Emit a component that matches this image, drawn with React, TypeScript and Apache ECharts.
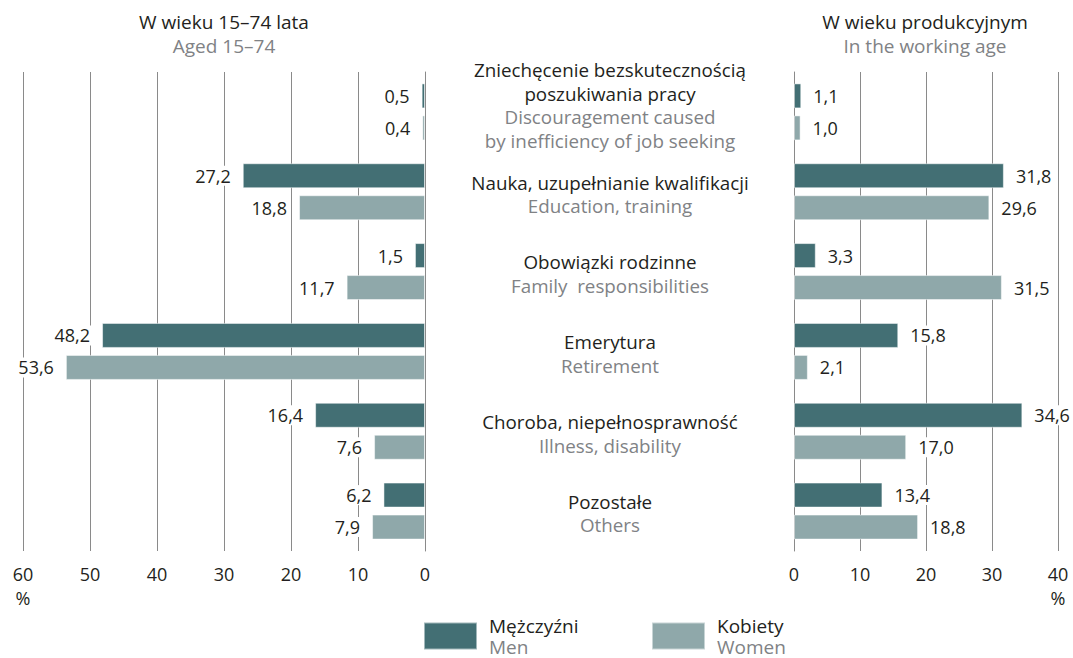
import React, { useEffect, useRef } from "react";
import * as echarts from "echarts";

const categoriesPL = [
  "Zniechęcenie bezskutecznością\nposzukiwania pracy",
  "Nauka, uzupełnianie kwalifikacji",
  "Obowiązki rodzinne",
  "Emerytura",
  "Choroba, niepełnosprawność",
  "Pozostałe",
];
const categoriesEN = [
  "Discouragement caused\nby inefficiency of job seeking",
  "Education, training",
  "Family  responsibilities",
  "Retirement",
  "Illness, disability",
  "Others",
];
const men1574 = [0.5, 27.2, 1.5, 48.2, 16.4, 6.2];
const women1574 = [0.4, 18.8, 11.7, 53.6, 7.6, 7.9];
const menWorking = [1.1, 31.8, 3.3, 15.8, 34.6, 13.4];
const womenWorking = [1.0, 29.6, 31.5, 2.1, 17.0, 18.8];
const leftTicksMax = 60;
const rightTicksMax = 40;
const tickInterval = 10;
const seriesNames = ["Mężczyźni", "Kobiety"];
const seriesNamesEN = ["Men", "Women"];
const headersPL = ["W wieku 15–74 lata", "W wieku produkcyjnym"];
const headersEN = ["Aged 15–74", "In the working age"];

const FONT = "'Open Sans', 'Noto Sans', sans-serif";
const DARK = "#231f20";
const GREY = "#808285";
const MEN = "#436f74";
const WOMEN = "#8fa8aa";
const GRIDC = "#8a8a8a";

const fmt = (v: number) => v.toFixed(1).replace(".", ",");

export default function App() {
  const ref = useRef<HTMLDivElement>(null);
  useEffect(() => {
    document.body.style.margin = "0";
    if (!ref.current) return;
    const chart = echarts.init(ref.current, undefined, { renderer: "svg" });
    const labelCommon = {
      show: true,
      color: DARK,
      fontSize: 18,
      fontFamily: FONT,
      backgroundColor: "#fff",
      padding: [1, 3],
      distance: 9,
      formatter: (p: any) => fmt(p.value),
    };
    const barCommon = {
      type: "bar",
      barWidth: 25,
      barGap: "28%",
    };
    const xCommon = (max: number, inverse: boolean, gridIndex: number) => ({
      type: "value",
      gridIndex,
      min: 0,
      max,
      interval: tickInterval,
      inverse,
      axisLine: { show: false },
      axisTick: { show: false },
      splitLine: { show: true, lineStyle: { color: GRIDC, width: 1 } },
      axisLabel: {
        color: DARK,
        fontSize: 18,
        fontFamily: FONT,
        margin: 11,
        lineHeight: 24,
        formatter: (v: number) => (v === max ? `${v}\n%` : `${v}`),
      },
    });
    chart.setOption({
      animation: false,
      textStyle: { fontFamily: FONT },
      grid: [
        { left: 23, width: 402, top: 72, height: 479 },
        { left: 794, width: 264, top: 72, height: 479 },
      ],
      xAxis: [xCommon(leftTicksMax, true, 0), xCommon(rightTicksMax, false, 1)],
      yAxis: [
        {
          type: "category",
          gridIndex: 0,
          inverse: true,
          position: "right",
          data: categoriesPL,
          axisLine: { show: true, onZero: false, lineStyle: { color: GRIDC } },
          axisTick: { show: false },
          axisLabel: { show: false },
        },
        {
          type: "category",
          gridIndex: 1,
          inverse: true,
          position: "left",
          data: categoriesPL,
          axisLine: { show: true, onZero: false, lineStyle: { color: GRIDC } },
          axisTick: { show: false },
          axisLabel: {
            show: true,
            margin: 184,
            align: "center",
            verticalAlign: "middle",
            fontFamily: FONT,
            formatter: (_v: string, idx: number) => {
              const pl = categoriesPL[idx].split("\n").map((s) => `{pl|${s}}`);
              const en = categoriesEN[idx].split("\n").map((s) => `{en|${s}}`);
              const lines = [...pl, ...en];
              if (lines.length > 2) lines.push("{sp| }");
              else lines.unshift("{sp2| }");
              return lines.join("\n");
            },
            rich: {
              pl: { color: DARK, fontSize: 18.8, lineHeight: 23.5, fontFamily: FONT, align: "center" },
              en: { color: GREY, fontSize: 18.8, lineHeight: 23.5, fontFamily: FONT, align: "center" },
              sp: { fontSize: 4, lineHeight: 13, align: "center" },
              sp2: { fontSize: 4, lineHeight: 5, align: "center" },
            },
          },
        },
      ],
      legend: [0, 1].map((i) => ({
        data: [seriesNames[i]],
        left: i === 0 ? 423 : 651,
        top: 616,
        padding: 0,
        icon: "rect",
        itemWidth: 53,
        itemHeight: 27,
        selectedMode: false,
        formatter: (name: string) => `{a|${name}}\n{b|${seriesNamesEN[seriesNames.indexOf(name)]}}`,
        textStyle: {
          padding: [0, 0, 0, 7],
          rich: {
            a: { color: DARK, fontSize: 19, lineHeight: 21, fontFamily: FONT },
            b: { color: GREY, fontSize: 19, lineHeight: 21, fontFamily: FONT },
          },
        },
      })),
      graphic: [0, 1].flatMap((i) => [
        {
          type: "text",
          x: i === 0 ? 224 : 925,
          y: 22,
          style: {
            text: headersPL[i],
            fill: DARK,
            fontSize: 19,
            fontFamily: FONT,
            align: "center",
            verticalAlign: "middle",
          },
        },
        {
          type: "text",
          x: i === 0 ? 224 : 925,
          y: 46,
          style: {
            text: headersEN[i],
            fill: GREY,
            fontSize: 19,
            fontFamily: FONT,
            align: "center",
            verticalAlign: "middle",
          },
        },
      ]),
      series: [
        {
          ...barCommon,
          name: seriesNames[0],
          xAxisIndex: 0,
          yAxisIndex: 0,
          data: men1574,
          itemStyle: { color: MEN, borderColor: "rgba(255,255,255,0.5)", borderWidth: 1 },
          label: { ...labelCommon, position: "left" },
        },
        {
          ...barCommon,
          name: seriesNames[1],
          xAxisIndex: 0,
          yAxisIndex: 0,
          data: women1574,
          itemStyle: { color: WOMEN, borderColor: "rgba(255,255,255,0.5)", borderWidth: 1 },
          label: { ...labelCommon, position: "left" },
        },
        {
          ...barCommon,
          name: seriesNames[0],
          xAxisIndex: 1,
          yAxisIndex: 1,
          data: menWorking,
          itemStyle: { color: MEN, borderColor: "rgba(255,255,255,0.5)", borderWidth: 1 },
          label: { ...labelCommon, position: "right" },
        },
        {
          ...barCommon,
          name: seriesNames[1],
          xAxisIndex: 1,
          yAxisIndex: 1,
          data: womenWorking,
          itemStyle: { color: WOMEN, borderColor: "rgba(255,255,255,0.5)", borderWidth: 1 },
          label: { ...labelCommon, position: "right" },
        },
      ],
    });
    return () => chart.dispose();
  }, []);
  return <div ref={ref} style={{ width: 1073, height: 658 }} />;
}
